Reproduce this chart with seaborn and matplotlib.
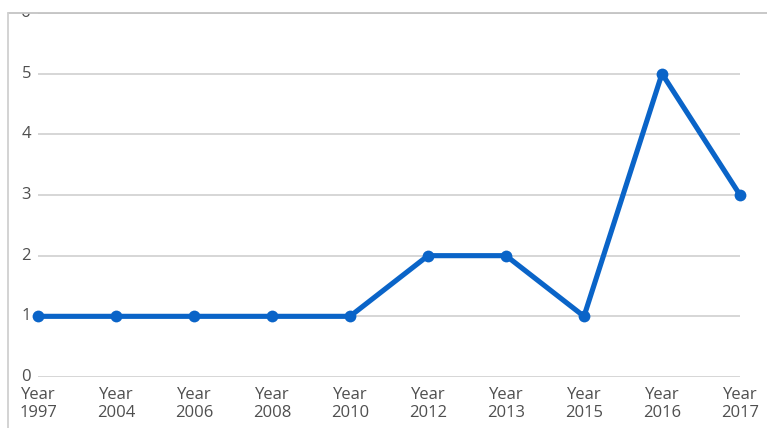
import matplotlib
matplotlib.use("Agg")
import matplotlib.pyplot as plt
from matplotlib.lines import Line2D
from matplotlib.patches import Rectangle
import seaborn as sns
import pandas as pd

# Counts per year
years = ["1997", "2004", "2006", "2008", "2010", "2012", "2013", "2015", "2016", "2017"]
counts = [1, 1, 1, 1, 1, 2, 2, 1, 5, 3]
y_ticks = [0, 1, 2, 3, 4, 5, 6]

sns.set_theme(style="white")
plt.rcParams["font.family"] = ["Open Sans", "DejaVu Sans"]

df = pd.DataFrame({"label": [f"Year {y}" for y in years], "count": counts})

W, H = 767, 428
fig = plt.figure(figsize=(W / 100, H / 100), dpi=100)
fig.patch.set_facecolor("white")
ax = fig.add_axes([38 / W, 1 - 377 / H, (740 - 38) / W, (377 - 13) / H])

line_color = "#0A64C8"
sns.lineplot(data=df, x="label", y="count", ax=ax, sort=False, color=line_color,
             linewidth=3.7, marker="o", markersize=8.5, markeredgewidth=0,
             clip_on=False, zorder=5)

ax.set_xlim(0, len(years) - 1)
ax.set_ylim(0, 6)
ax.set_yticks(y_ticks)
ax.set_yticklabels([str(t) for t in y_ticks])
ax.set_xticks(range(len(years)))
ax.set_xticklabels([f"Year\n{y}" for y in years], linespacing=1.2)
ax.set_xlabel("")
ax.set_ylabel("")

for t in y_ticks:
    ax.axhline(t, color="#d0d0d0", linewidth=1.2, zorder=1)

for s in ax.spines.values():
    s.set_visible(False)

ax.tick_params(axis="both", length=0, labelsize=12, labelcolor="#4f4f4f")
ax.tick_params(axis="y", pad=5)
ax.tick_params(axis="x", pad=7)
for lbl in ax.get_yticklabels():
    lbl.set_verticalalignment("center")

# Outer chart frame (top and left edges) and the area above it
fig.add_artist(Rectangle((0, 1 - 13 / H), 1, 13 / H, transform=fig.transFigure,
                         facecolor="white", edgecolor="none", zorder=20))
fig.add_artist(Line2D([8 / W, 1], [1 - 13 / H, 1 - 13 / H], transform=fig.transFigure,
                      color="#c4c4c4", linewidth=1.3, zorder=21))
fig.add_artist(Line2D([8 / W, 8 / W], [0, 1 - 13 / H], transform=fig.transFigure,
                      color="#d0d0d0", linewidth=1.3, zorder=21))

fig.savefig("out.png", dpi=100)
